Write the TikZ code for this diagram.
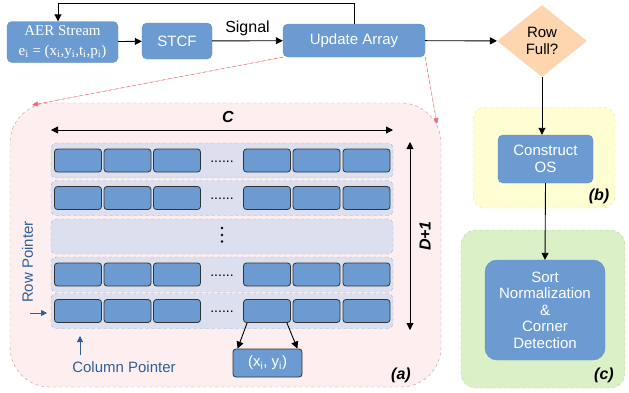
\documentclass[tikz,border=0pt]{standalone}
\usepackage{fontspec}
\setmainfont{Liberation Sans}
\newfontfamily\serifrm{Liberation Serif}
\usetikzlibrary{arrows.meta,shapes.geometric}
\definecolor{boxblue}{HTML}{6C9BD2}
\definecolor{boxedge}{HTML}{5E8CC4}
\definecolor{rowfill}{HTML}{DCE0EE}
\definecolor{rowedge}{HTML}{8FAEDC}
\definecolor{redfill}{HTML}{FDEFEF}
\definecolor{rededge}{HTML}{D98C8C}
\definecolor{yelfill}{HTML}{FEFED2}
\definecolor{yeledge}{HTML}{E6E69A}
\definecolor{grnfill}{HTML}{DCF0C8}
\definecolor{grnedge}{HTML}{B3D78F}
\definecolor{peach}{HTML}{FDD5AE}
\definecolor{ptrblue}{HTML}{2F5F98}
\tikzset{
  every node/.style={font=\fontsize{15}{17}\selectfont},
  bluebox/.style={draw=boxedge, fill=boxblue, rounded corners=5pt, text=white, align=center, inner sep=0pt},
  cellbox/.style={draw=black!80, fill=boxblue, rounded corners=3pt, line width=0.8pt, minimum width=47pt, minimum height=23pt, inner sep=0pt},
  rowbox/.style={draw=rowedge, dashed, fill=rowfill, rounded corners=5pt},
  arr/.style={-{Triangle[length=7pt,width=7pt]}, line width=0.9pt},
  darr/.style={{Triangle[length=7pt,width=7pt]}-{Triangle[length=7pt,width=7pt]}, line width=0.9pt},
  redarr/.style={-{Triangle[length=6pt,width=5pt]}, dashed, draw=rededge!80!red, fill=red, line width=0.5pt},
  ptrarr/.style={-{Triangle[length=6pt,width=6pt]}, draw=ptrblue, fill=ptrblue, line width=0.8pt},
  lbl/.style={font=\fontsize{16}{18}\selectfont\bfseries\itshape},
  dotstyle/.style={font=\fontsize{14}{14}\selectfont, anchor=base, inner sep=0pt},
}
\begin{document}
\begin{tikzpicture}[x=1pt,y=-1pt]
\useasboundingbox (0,0) rectangle (629,392);
% regions
\path[draw=rededge, dashed, fill=redfill, rounded corners=40pt] (10,103) rectangle (441,387);
\path[draw=yeledge, dashed, fill=yelfill, rounded corners=12pt] (473,107) rectangle (615,208);
\path[draw=grnedge, dashed, fill=grnfill, rounded corners=15pt] (461,230) rectangle (625,388);
% top flow
\node[bluebox, minimum width=111pt, minimum height=41pt, font=\fontsize{15}{20}\selectfont\serifrm] (aer) at (62.5,42)
  {AER Stream\\e\textsubscript{i} = (x\textsubscript{i},y\textsubscript{i},t\textsubscript{i},p\textsubscript{i})};
\node[bluebox, minimum width=70pt, minimum height=36pt] (stcf) at (177,41) {STCF};
\node[bluebox, minimum width=142pt, minimum height=33pt] (upd) at (354,40.5) {Update Array};
\node[diamond, fill=peach, minimum width=90pt, minimum height=72pt, inner sep=0pt, aspect=1.25, align=center] (full) at (542,41) {Row\\Full?};
\node[bluebox, minimum width=95pt, minimum height=48pt] (os) at (545.5,159) {Construct\\OS};
\node[bluebox, rounded corners=12pt, minimum width=120pt, minimum height=100pt, font=\fontsize{15}{16.5}\selectfont] (sort) at (545,310) {Sort\\Normalization\\\&\\Corner\\Detection};
\draw[arr] (aer) -- (stcf);
\draw[arr] (stcf) -- node[above=1pt, font=\fontsize{16}{18}\selectfont] (sig) {Signal} (upd);
\draw[arr] (upd) -- (full);
\coordinate (fbtop) at (354,3);
\draw[arr] (upd.north) |- (fbtop) -| ([xshift=-4.5pt]aer.north);
\draw[arr] (full.south) -- ([xshift=-3.5pt]os.north);
\draw[arr] (os.south) -- (sort.north);
\node[lbl] (lb) at (599,196) {(b)};
\node[lbl] (lc) at (604,375) {(c)};
% red dashed
\coordinate (ra) at (32,105);
\coordinate (rb) at (437,124);
\draw[redarr] (upd.south west) -- (ra);
\draw[redarr] (upd.south east) -- (rb);
% rows
\foreach \n/\yc in {1/160.5,2/198,3/236.5,4/274.5,5/311}{
  \node[rowbox, minimum width=342pt, minimum height=35pt] (row\n) at (222,\yc) {};
}
\foreach \n/\yc in {1/160.5,2/198,4/274.5,5/311}{
  \foreach \k/\xc in {1/78,2/127.5,3/177,4/267,5/316.5,6/366.5}{
    \node[cellbox] (c\n\k) at (\xc,\yc) {};
  }
  \node[dotstyle] (dots\n) at (222,\yc+1.5) {......};
}
\foreach \yy in {228,235,241.5}{
  \fill (222,\yy) circle (1.4pt);
}
% dimension arrows
\coordinate (cl) at (51,130);
\coordinate (cr) at (393,130);
\draw[darr] (cl) -- (cr);
\node[lbl] (lC) at (228,117) {C};
\coordinate (dt) at (410,142);
\coordinate (db) at (410,330);
\draw[darr] (dt) -- (db);
\node[lbl, rotate=90] (lD) at (425,236) {D+1};
% pointers
\node[rotate=90, text=ptrblue] (rp) at (27.5,262) {Row Pointer};
\coordinate (rps) at (30,313);
\coordinate (rpe) at (47,313);
\draw[ptrarr] (rps) -- (rpe);
\coordinate (cps) at (80,355);
\coordinate (cpe) at (80,336);
\draw[ptrarr] (cps) -- (cpe);
\node[text=ptrblue] (cp) at (124,367) {Column Pointer};
% xy box
\node[cellbox, minimum width=69pt, minimum height=28pt, text=white] (xy) at (267.5,363) {(x\textsubscript{i}, y\textsubscript{i})};
\draw[arr] ([xshift=4pt]c54.south west) -- ([xshift=5pt]xy.north west);
\draw[arr] ([xshift=-4pt]c54.south east) -- ([xshift=-5pt]xy.north east);
\node[lbl] (la) at (401,375) {(a)};
\end{tikzpicture}
\end{document}
